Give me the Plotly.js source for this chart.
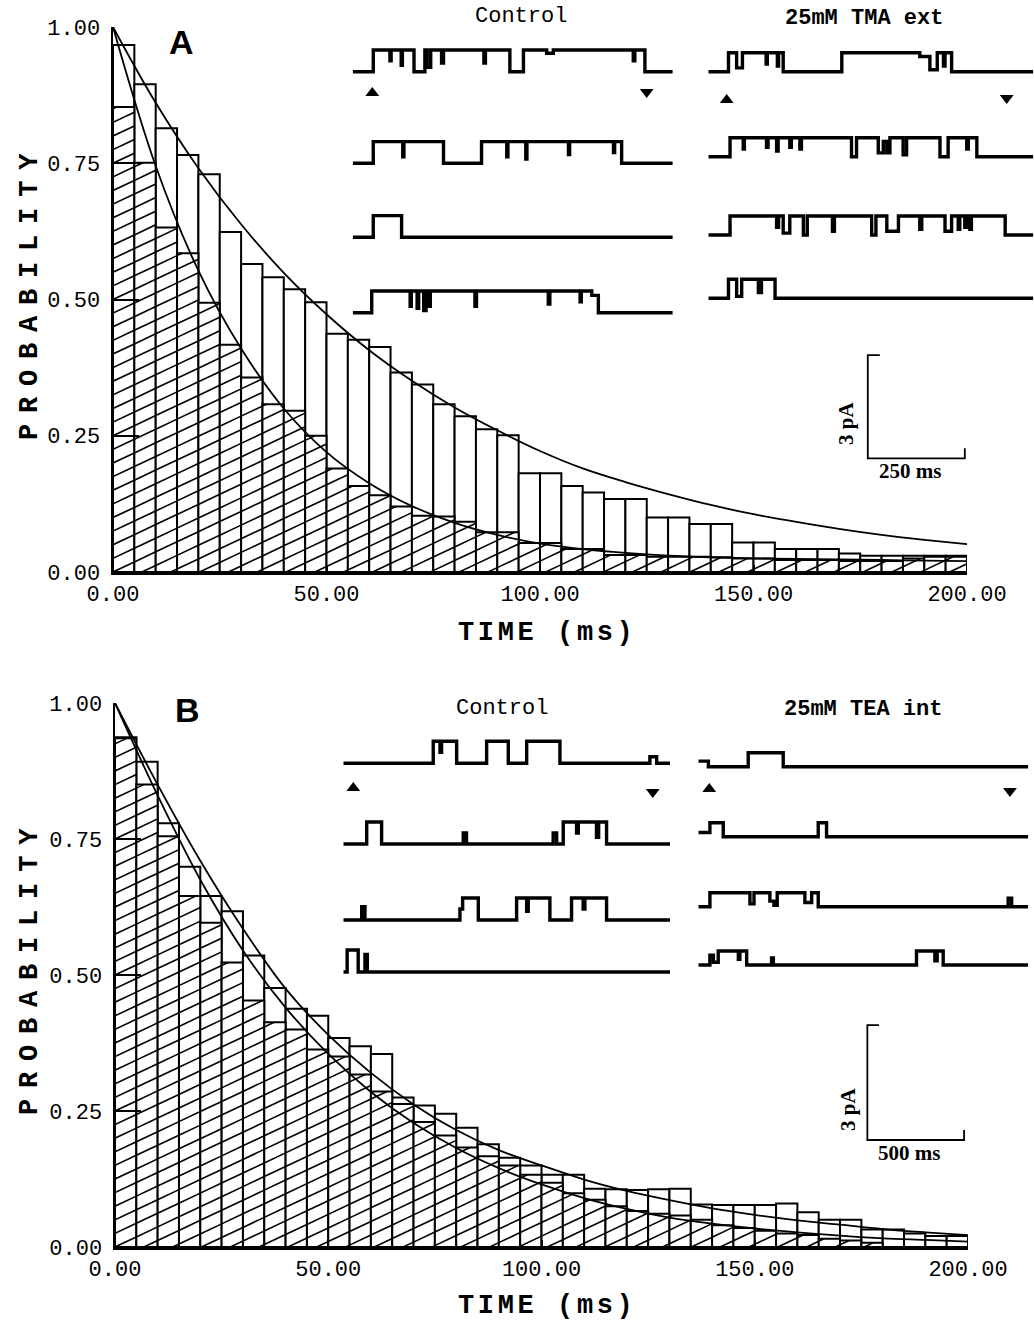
<!DOCTYPE html>
<html><head><meta charset="utf-8">
<script src="https://cdn.plot.ly/plotly-3.0.1.min.js"></script>
<style>html,body{margin:0;padding:0;background:#fff}#chart{width:1034px;height:1322px}</style>
</head><body><div id="chart"></div><script>
// ---------- histogram data (5 ms bins) ----------
const binLeft = [0,5,10,15,20,25,30,35,40,45,50,55,60,65,70,75,80,85,90,95,100,105,110,115,120,125,130,135,140,145,150,155,160,165,170,175,180,185,190,195];
const probA_control = [0.967,0.895,0.814,0.765,0.730,0.624,0.565,0.541,0.519,0.495,0.437,0.426,0.413,0.366,0.344,0.308,0.286,0.262,0.251,0.181,0.181,0.158,0.146,0.134,0.134,0.100,0.100,0.088,0.088,0.054,0.054,0.042,0.042,0.042,0.034,0.030,0.030,0.030,0.030,0.030];
const probA_TMA = [0.853,0.751,0.632,0.585,0.494,0.417,0.357,0.308,0.296,0.250,0.190,0.158,0.141,0.120,0.103,0.102,0.092,0.073,0.073,0.053,0.053,0.042,0.042,0.031,0.031,0.028,0.028,0.028,0.027,0.025,0.025,0.022,0.022,0.022,0.020,0.020,0.020,0.025,0.028,0.028];
const probB_control = [0.937,0.892,0.779,0.699,0.645,0.617,0.536,0.476,0.438,0.425,0.384,0.369,0.355,0.275,0.260,0.245,0.219,0.189,0.164,0.150,0.133,0.133,0.107,0.106,0.105,0.106,0.107,0.078,0.077,0.077,0.077,0.080,0.064,0.050,0.050,0.032,0.032,0.025,0.020,0.020];
const probB_TEA = [0.935,0.850,0.755,0.645,0.596,0.523,0.453,0.413,0.400,0.363,0.350,0.317,0.286,0.263,0.230,0.205,0.183,0.167,0.150,0.133,0.118,0.099,0.087,0.075,0.066,0.061,0.058,0.050,0.040,0.035,0.030,0.025,0.022,0.015,0.012,0.008,0,0,0,0];
// ---------- fitted curves read every 10 ms ----------
const fitTime = [0,10,20,30,40,50,60,70,80,90,100,110,120,130,140,150,160,170,180,190,200];
const fitA_control = [1.0,0.861,0.741,0.638,0.549,0.473,0.407,0.351,0.302,0.260,0.222,0.190,0.165,0.143,0.123,0.106,0.092,0.079,0.068,0.059,0.051];
const fitA_TMA = [1.0,0.745,0.553,0.410,0.300,0.220,0.163,0.121,0.090,0.068,0.052,0.042,0.035,0.030,0.027,0.025,0.024,0.023,0.022,0.021,0.020];
const fitB_control = [1.0,0.850,0.710,0.585,0.475,0.390,0.320,0.262,0.215,0.178,0.150,0.124,0.103,0.086,0.071,0.059,0.049,0.041,0.033,0.027,0.022];
const fitB_TEA = [1.0,0.830,0.675,0.545,0.440,0.355,0.285,0.228,0.182,0.145,0.115,0.090,0.070,0.054,0.043,0.034,0.027,0.021,0.016,0.013,0.010];
const yTickVals = [0,0.25,0.5,0.75,1];
const yTickText = ["0.00","0.25","0.50","0.75","1.00"];
const xTickVals = [0,50,100,150,200];
const xTickText = ["0.00","50.00","100.00","150.00","200.00"];
// ---------- single channel records: transition times (ms) and state (0 closed, 1 open) ----------
const aC1_t=[0,53,96,99,125,128,158,186,192,201,229,234,338,342,405,440,500,517,723,727,753,825];
const aC1_s=[0,1,0.5,1,0.3,1,0,1,0.2,1,0.4,1,0.4,1,0,1,0.85,1,0.5,1,0];
const aC2_t=[0,53,129,132,234,332,397,400,446,449,556,559,672,675,693,825];
const aC2_s=[0,1,0.3,1,0,1,0.3,1,0.2,1,0.4,1,0.5,1,0];
const aC3_t=[0,53,126,825];
const aC3_s=[0,1,0];
const aC4_t=[0,49,148,151,166,170,183,189,196,200,315,319,504,508,586,589,616,633,825];
const aC4_s=[0,1,0.3,1,0.2,1,0.1,1,0.3,1,0.3,1,0.4,1,0.5,1,0.8,0];
const aT1_t=[0,52,73,88,149,152,178,181,193,344,545,571,590,606,610,627,838];
const aT1_s=[0,1,0.2,1,0.4,1,0.3,1,0,1,0.8,0.1,1,0.3,1,0];
const aT2_t=[0,56,90,93,150,154,176,180,210,214,236,240,369,382,438,451,460,468,502,511,597,618,666,670,692,838];
const aT2_s=[0,1,0.4,1,0.5,1,0.3,1,0.5,1,0.4,1,0,1,0.2,0.8,0.2,1,0.1,1,0,1,0.4,1,0];
const aT3_t=[0,56,176,181,193,210,245,255,320,325,421,432,460,490,545,550,610,627,644,648,661,666,674,678,765,838];
const aT3_s=[0,1,0.4,1,0.1,1,0,1,0.2,1,0,1,0.2,1,0.3,1,0.2,1,0.3,1,0.4,1,0.3,1,0];
const aT4_t=[0,52,73,86,129,137,172,838];
const aT4_s=[0,1,0.1,1,0.3,1,0];
const bC1_t=[0,465,500,508,586,741,853,948,1120,1585,1620,1689];
const bC1_s=[0,1,0.5,1,0,1,0,1,0,0.3,0];
const bC2_t=[0,121,198,620,637,1085,1103,1137,1206,1215,1309,1320,1361,1689];
const bC2_s=[0,1,0,0.5,0,0.5,0,1,0.5,1,0.3,1,0];
const bC3_t=[0,95,112,603,617,698,896,948,956,1068,1180,1240,1249,1361,1689];
const bC3_s=[0,0.6,0,0.5,1,0,1,0.4,1,0,1,0.5,1,0];
const bC4_t=[0,20,77,112,124,1689];
const bC4_s=[0,1,0,0.8,0];
const bT1_t=[0,52,258,439,1706];
const bT1_s=[0.4,0,1,0];
const bT2_t=[0,60,129,620,663,1706];
const bT2_s=[0.3,1,0,1,0];
const bT3_t=[0,60,267,288,370,391,408,551,586,620,1602,1620,1706];
const bT3_s=[0,1,0.2,1,0.4,0.1,1,0.3,1,0,0.6,0];
const bT4_t=[0,60,78,103,207,215,250,379,388,1128,1223,1235,1266,1706];
const bT4_s=[0,0.7,0.2,1,0.4,1,0,0.5,0,1,0.3,1,0];
const scaleA = {ms:250, pA:3};
const scaleB = {ms:500, pA:3};

// ---------- layout helpers (pixel -> paper) ----------
const W=1034,H=1322;
const px=x=>x/W, py=y=>(H-y)/H;
const BIN=5;
const traces=[];
function bars(vals, xa, ya){
  traces.push({type:'bar', x:binLeft.map(v=>v+BIN/2), y:vals, width:BIN, xaxis:xa, yaxis:ya,
    marker:{color:'#fff', line:{color:'#000', width:2}}, hoverinfo:'skip', showlegend:false});
}
function hatch(vals, xa, ya){
  const s=0.0037, gap=0.025, xs=[], ys=[];
  binLeft.forEach((x0,i)=>{
    const h=vals[i], x1=x0+BIN; if(h<=0) return;
    const cmin=-s*x1, cmax=h-s*x0;
    for(let j=Math.ceil(cmin/gap); j*gap<=cmax; j++){
      const c=j*gap;
      const xa_=Math.max(x0,-c/s), xb=Math.min(x1,(h-c)/s);
      if(xb>xa_+1e-6){ xs.push(xa_,xb,null); ys.push(s*xa_+c, s*xb+c, null); }
    }
  });
  traces.push({type:'scatter', mode:'lines', x:xs, y:ys, xaxis:xa, yaxis:ya,
    line:{color:'#000', width:1.6}, hoverinfo:'skip', showlegend:false, connectgaps:false});
}
function curve(vals, xa, ya){
  traces.push({type:'scatter', mode:'lines', x:fitTime, y:vals, xaxis:xa, yaxis:ya,
    line:{color:'#000', width:1.8, shape:'spline'}, hoverinfo:'skip', showlegend:false});
}
function record(t, s, base, amp, xa, ya){
  const y=s.map(v=>base+amp*v); y.push(y[y.length-1]);
  traces.push({type:'scatter', mode:'lines', x:t, y:y, xaxis:xa, yaxis:ya,
    line:{color:'#000', width:3.4, shape:'hv'}, hoverinfo:'skip', showlegend:false});
}
bars(probA_control,'x','y'); bars(probA_TMA,'x','y');
bars(probB_control,'x2','y2'); bars(probB_TEA,'x2','y2');
hatch(probA_TMA,'x','y'); hatch(probB_TEA,'x2','y2');
curve(fitA_control,'x','y'); curve(fitA_TMA,'x','y');
curve(fitB_control,'x2','y2'); curve(fitB_TEA,'x2','y2');

// inset y scales: A 34.4 px/pA (pixel 480 = 0), B 38.3 px/pA (pixel 1160 = 0)
const kA=34.4, kB=38.3;
const bA=p=>(480-p)/kA, bB=p=>(1160-p)/kB;
const ampAC=21.7/kA, ampAT=19/kA, ampBC=22/kB, ampBT=14/kB;
[[aC1_t,aC1_s,71.7],[aC2_t,aC2_s,163.3],[aC3_t,aC3_s,237.3],[aC4_t,aC4_s,312.7]].forEach(r=>record(r[0],r[1],bA(r[2]),ampAC,'x3','y3'));
[[aT1_t,aT1_s,71.7],[aT2_t,aT2_s,156.7],[aT3_t,aT3_s,235],[aT4_t,aT4_s,298.3]].forEach(r=>record(r[0],r[1],bA(r[2]),ampAT,'x4','y3'));
[[bC1_t,bC1_s,763.3],[bC2_t,bC2_s,844],[bC3_t,bC3_s,920],[bC4_t,bC4_s,972]].forEach(r=>record(r[0],r[1],bB(r[2]),ampBC,'x5','y4'));
[[bT1_t,bT1_s,766.7],[bT2_t,bT2_s,836.7],[bT3_t,bT3_s,906.7],[bT4_t,bT4_s,965]].forEach(r=>record(r[0],r[1],bB(r[2]),ampBT,'x6','y4'));

function arrows(xs, ys, syms, xa, ya){
  traces.push({type:'scatter', mode:'markers', x:xs, y:ys, xaxis:xa, yaxis:ya,
    marker:{symbol:syms, size:12, color:'#000'}, hoverinfo:'skip', showlegend:false});
}
arrows([50.5,757.6],[bA(93),bA(92)],['triangle-up','triangle-down'],'x3','y3');
arrows([47.4,769],[bA(100),bA(98)],['triangle-up','triangle-down'],'x4','y3');
arrows([51.7,1600],[bB(788),bB(792)],['triangle-up','triangle-down'],'x5','y4');
arrows([56.9,1611],[bB(789),bB(791)],['triangle-up','triangle-down'],'x6','y4');

function scalebar(x0, y0, sc, tickX, tickY, xa, ya){
  traces.push({type:'scatter', mode:'lines', xaxis:xa, yaxis:ya,
    x:[x0+tickX, x0, x0, x0+sc.ms, x0+sc.ms],
    y:[y0+sc.pA, y0+sc.pA, y0, y0, y0+tickY],
    line:{color:'#000', width:1.8}, hoverinfo:'skip', showlegend:false});
}
scalebar(411, bA(458.3), scaleA, 31, 10/kA, 'x4','y3');
scalebar(874, bB(1140), scaleB, 60, 10/kB, 'x6','y4');

const mono='Liberation Mono, Courier New, monospace';
const axBase={showgrid:false, zeroline:false, showline:true, linecolor:'#000', linewidth:2.5,
  ticks:'inside', tickcolor:'#000', tickwidth:2, tickfont:{family:mono, size:22, color:'#000'}, fixedrange:true};
const hid={visible:false, fixedrange:true};
const layout={
  width:W, height:H, margin:{l:0,r:0,t:0,b:0}, paper_bgcolor:'#fff', plot_bgcolor:'rgba(0,0,0,0)',
  barmode:'overlay', bargap:0, showlegend:false,
  xaxis:Object.assign({}, axBase, {domain:[px(113),px(967)], range:[0,200], anchor:'y', tickvals:xTickVals, ticktext:xTickText, ticklen:7}),
  yaxis:Object.assign({}, axBase, {domain:[py(572),py(27)], range:[0,1], anchor:'x', tickvals:yTickVals, ticktext:yTickText, ticklen:26, ticklabelstandoff:6}),
  xaxis2:Object.assign({}, axBase, {domain:[px(115),px(968)], range:[0,200], anchor:'y2', tickvals:xTickVals, ticktext:xTickText, ticklen:7}),
  yaxis2:Object.assign({}, axBase, {domain:[py(1247),py(703)], range:[0,1], anchor:'x2', tickvals:yTickVals, ticktext:yTickText, ticklen:26, ticklabelstandoff:6}),
  xaxis3:Object.assign({}, hid, {domain:[px(352.7),px(672.7)], range:[0,824.6], anchor:'y3'}),
  xaxis4:Object.assign({}, hid, {domain:[px(708.3),px(1033.3)], range:[0,837.5], anchor:'y3'}),
  yaxis3:Object.assign({}, hid, {domain:[py(480),py(20)], range:[0,460/kA], anchor:'x3'}),
  xaxis5:Object.assign({}, hid, {domain:[px(343.3),px(670)], range:[0,1689], anchor:'y4'}),
  xaxis6:Object.assign({}, hid, {domain:[px(698.3),px(1028.3)], range:[0,1706], anchor:'y4'}),
  yaxis4:Object.assign({}, hid, {domain:[py(1160),py(700)], range:[0,460/kB], anchor:'x5'}),
  annotations:[]
};
const ann=(text,x,y,font,extra)=>layout.annotations.push(Object.assign({text, x:px(x), y:py(y), xref:'paper', yref:'paper', showarrow:false, font, xanchor:'center', yanchor:'middle'}, extra||{}));
// letter-spaced bold label: small non-breaking spaces between characters
const spaced=(txt,gap)=>'<b>'+txt.split('').join('<span style="font-size:'+gap+'px">\u00A0</span>')+'</b>';
const labFont={family:mono, size:27, color:'#000'};
ann(spaced('TIME (ms)',6), 545, 633, labFont);
ann(spaced('TIME (ms)',6), 545, 1306, labFont);
ann(spaced('PROBABILITY',18), 30, 297, labFont, {textangle:-90});
ann(spaced('PROBABILITY',18), 30, 972, labFont, {textangle:-90});
const letterFont={family:'Liberation Sans, Arial, sans-serif', size:34, color:'#000'};
ann('<b>A</b>', 181, 42, letterFont);
ann('<b>B</b>', 187, 710, letterFont);
ann('Control', 521, 16, {family:mono, size:22, color:'#000'});
ann('<b>25mM TMA ext</b>', 864, 18, {family:mono, size:22, color:'#000'});
ann('Control', 502, 708, {family:mono, size:22, color:'#000'});
ann('<b>25mM TEA int</b>', 863, 710, {family:mono, size:22, color:'#000'});
const serif={family:'Liberation Serif, Times New Roman, serif', size:21, color:'#000'};
ann('<b>3 pA</b>', 846, 424, serif, {textangle:-90});
ann('<b>250 ms</b>', 910, 471, serif);
ann('<b>3 pA</b>', 848, 1110, serif, {textangle:-90});
ann('<b>500 ms</b>', 909, 1153, serif);

Plotly.newPlot('chart', traces, layout, {staticPlot:true, displayModeBar:false});
</script></body></html>
